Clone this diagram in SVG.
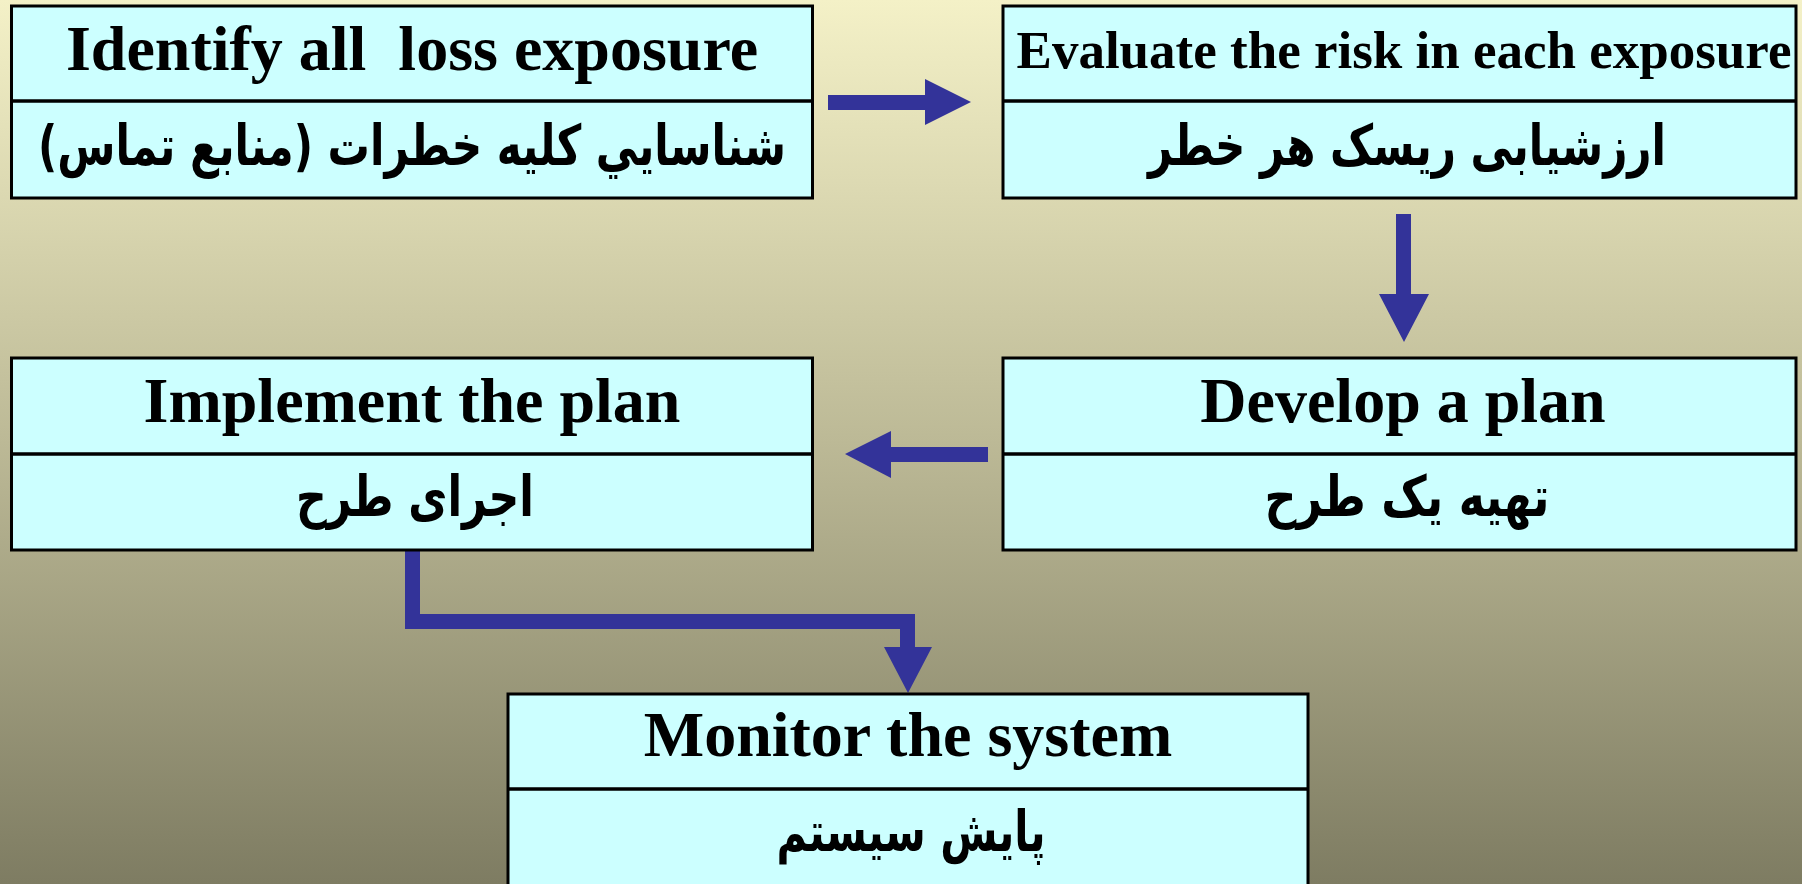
<svg xmlns="http://www.w3.org/2000/svg" width="1802" height="884" viewBox="0 0 1802 884">
<defs>
<linearGradient id="bg" x1="0" y1="0" x2="0" y2="1">
<stop offset="0" stop-color="#F4F1C7"/>
<stop offset="0.5" stop-color="#BCB996"/>
<stop offset="1" stop-color="#7E7C62"/>
</linearGradient>
<style>
.box{fill:#CCFFFF;stroke:#000;stroke-width:3}
.div{stroke:#000;stroke-width:3.5}
.en{font-family:"Liberation Serif","Times New Roman",serif;font-weight:bold;font-size:64px;fill:#000;text-anchor:middle}
.fa{font-family:"DejaVu Sans",sans-serif;font-weight:bold;font-size:56px;fill:#000;text-anchor:middle}
.arrow{fill:#333399}
</style>
</defs>
<rect x="0" y="0" width="1802" height="884" fill="url(#bg)"/>
<g id="connectors">
<path class="arrow" d="M828,95 H925 V79 L971,102 L925,125 V110 H828 Z"/>
<path class="arrow" d="M1396,214 H1411 V294 H1429 L1404,342 L1379,294 H1396 Z"/>
<path class="arrow" d="M988,447 V462 H891 V478 L845,454 L891,431 V447 Z"/>
<path class="arrow" d="M405,550 H420 V614 H915 V647 H932 L908,693 L884,647 H900 V629 H405 Z"/>
</g>
<g id="node-identify">
<rect class="box" x="11.5" y="6" width="801" height="192"/>
<line class="div" x1="11.5" y1="101" x2="812.5" y2="101"/>
<text class="en" x="412" y="70" xml:space="preserve">Identify all  loss exposure</text>
<text class="fa" x="412" y="165" direction="rtl" textLength="748" lengthAdjust="spacingAndGlyphs">شناسايي كليه خطرات (منابع تماس)</text>
</g>
<g id="node-evaluate">
<rect class="box" x="1003" y="6" width="793" height="192"/>
<line class="div" x1="1003" y1="101" x2="1796" y2="101"/>
<text class="en" x="1404" y="68" style="font-size:53px">Evaluate the risk in each exposure</text>
<text class="fa" x="1407" y="165" direction="rtl" textLength="518" lengthAdjust="spacingAndGlyphs">ارزشیابی ریسک هر خطر</text>
</g>
<g id="node-implement">
<rect class="box" x="11.5" y="358" width="801" height="192"/>
<line class="div" x1="11.5" y1="454" x2="812.5" y2="454"/>
<text class="en" x="412" y="422">Implement the plan</text>
<text class="fa" x="415" y="516" direction="rtl" textLength="238" lengthAdjust="spacingAndGlyphs">اجرای طرح</text>
</g>
<g id="node-develop">
<rect class="box" x="1003" y="358" width="793" height="192"/>
<line class="div" x1="1003" y1="454" x2="1796" y2="454"/>
<text class="en" x="1403" y="422">Develop a plan</text>
<text class="fa" x="1407" y="516" direction="rtl" textLength="285" lengthAdjust="spacingAndGlyphs">تهیه یک طرح</text>
</g>
<g id="node-monitor">
<rect class="box" x="508" y="694" width="800" height="200"/>
<line class="div" x1="508" y1="789" x2="1308" y2="789"/>
<text class="en" x="908" y="756">Monitor the system</text>
<text class="fa" x="911" y="851" direction="rtl" textLength="269" lengthAdjust="spacingAndGlyphs">پایش سیستم</text>
</g>
</svg>
